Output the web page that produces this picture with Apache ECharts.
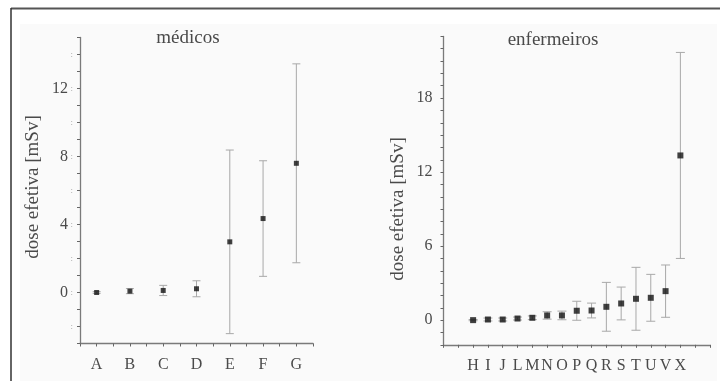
<!DOCTYPE html>
<html>
<head>
<meta charset="utf-8">
<script src="https://cdn.jsdelivr.net/npm/echarts@6/dist/echarts.min.js"></script>
<style>html,body{margin:0;padding:0;background:#fff;}#c{width:720px;height:381px;}</style>
</head>
<body>
<div id="c"></div>
<script>
// ---- data ----
var leftCategories = ['A','B','C','D','E','F','G'];
var leftMeans  = [0.0, 0.08, 0.12, 0.22, 2.98, 4.35, 7.6];
var leftErrors = [0.05, 0.15, 0.3, 0.47, 5.4, 3.4, 5.85];

var rightCategories = ['H','I','J','L','M','N','O','P','Q','R','S','T','U','V','X'];
var rightMeans  = [0.0, 0.05, 0.05, 0.13, 0.19, 0.38, 0.38, 0.76, 0.78, 1.08, 1.35, 1.73, 1.81, 2.35, 13.35];
var rightErrors = [0.05, 0.12, 0.12, 0.12, 0.15, 0.3, 0.35, 0.77, 0.6, 1.98, 1.33, 2.55, 1.9, 2.12, 8.35];

var leftTitle = 'médicos';
var rightTitle = 'enfermeiros';
var yName = 'dose efetiva [mSv]';
var leftYTicks = [0, 4, 8, 12];
var rightYTicks = [0, 6, 12, 18];

// ---- build ----
var FONT = 'Liberation Serif';
var TXT = '#4a4a4a';
var AX = '#7a7a7a';

function pts(means) { return means.map(function (m, i) { return [i + 1, m]; }); }
function bars(means, errs) { return means.map(function (m, i) { return [i + 1, m - errs[i], m + errs[i]]; }); }

function errRender(cap) {
  return function (params, api) {
    var x = api.value(0);
    var top = api.coord([x, api.value(2)]);
    var bot = api.coord([x, api.value(1)]);
    var st = { stroke: '#a8a8a8', lineWidth: 1 };
    return {
      type: 'group',
      children: [
        { type: 'line', shape: { x1: top[0], y1: top[1], x2: bot[0], y2: bot[1] }, style: st },
        { type: 'line', shape: { x1: top[0] - cap, y1: top[1], x2: top[0] + cap, y2: top[1] }, style: st },
        { type: 'line', shape: { x1: bot[0] - cap, y1: bot[1], x2: bot[0] + cap, y2: bot[1] }, style: st }
      ]
    };
  };
}

function xAxisDef(grid, min, max, interval, cats) {
  return {
    type: 'value', gridIndex: grid, min: min, max: max, interval: interval,
    axisLine: { show: true, onZero: false, lineStyle: { color: AX, width: 1.3 } },
    axisTick: { show: true, length: 3, lineStyle: { color: '#666' } },
    splitLine: { show: false },
    axisLabel: {
      margin: 13, fontFamily: FONT, fontSize: 16, color: TXT, showMinLabel: true, showMaxLabel: true,
      formatter: function (v) {
        var r = Math.round(v);
        if (Math.abs(v - r) < 1e-6 && r >= 1 && r <= cats.length) return cats[r - 1];
        return '';
      }
    }
  };
}

function yAxisDef(grid, min, max, labels, margin) {
  return {
    type: 'value', gridIndex: grid, min: min, max: max, interval: 1, position: 'left',
    axisLine: { show: true, onZero: false, lineStyle: { color: AX, width: 1.3 } },
    axisTick: { show: true, length: 3, lineStyle: { color: '#666' } },
    splitLine: { show: false },
    axisLabel: {
      margin: margin, fontFamily: FONT, fontSize: 16, color: TXT, showMinLabel: true, showMaxLabel: true,
      formatter: function (v) { return labels.indexOf(v) >= 0 ? String(v) : ''; }
    }
  };
}

var chart = echarts.init(document.getElementById('c'), null, { renderer: 'canvas' });
chart.setOption({
  backgroundColor: '#ffffff',
  animation: false,
  grid: [
    { left: 80, top: 37.5, width: 233, height: 306 },
    { left: 443.5, top: 36.4, width: 266.5, height: 308.4 }
  ],
  xAxis: [
    xAxisDef(0, 0.5, 7.5, 0.5, leftCategories),
    xAxisDef(1, -1, 17, 1, rightCategories)
  ],
  yAxis: [
    yAxisDef(0, -3, 15, leftYTicks, 12),
    yAxisDef(1, -2, 23, rightYTicks, 11),
    {
      type: 'value', gridIndex: 0, min: -3, max: 15, interval: 1, position: 'left',
      axisLine: { show: false }, axisTick: { show: false }, splitLine: { show: false },
      axisLabel: {
        margin: 7, fontFamily: FONT, fontSize: 9, color: '#999',
        formatter: function (v) { return (Math.round(v) % 2 === 0) ? ':' : ''; }
      }
    }
  ],
  series: [
    { type: 'custom', xAxisIndex: 0, yAxisIndex: 0, renderItem: errRender(4), data: bars(leftMeans, leftErrors), z: 2 },
    { type: 'scatter', xAxisIndex: 0, yAxisIndex: 0, symbol: 'rect', symbolSize: 5, itemStyle: { color: '#111' }, data: pts(leftMeans), z: 3 },
    { type: 'custom', xAxisIndex: 1, yAxisIndex: 1, renderItem: errRender(4.5), data: bars(rightMeans, rightErrors), z: 2 },
    { type: 'scatter', xAxisIndex: 1, yAxisIndex: 1, symbol: 'rect', symbolSize: 6, itemStyle: { color: '#111' }, data: pts(rightMeans), z: 3 }
  ],
  graphic: [
    { type: 'rect', z: -100, silent: true, shape: { x: 20, y: 24, width: 697, height: 357 }, style: { fill: '#fafafa' } },
    { type: 'line', z: 100, shape: { x1: 11, y1: 8.5, x2: 720, y2: 8.5 }, style: { stroke: '#555', lineWidth: 2 } },
    { type: 'line', z: 100, shape: { x1: 11, y1: 8, x2: 11, y2: 381 }, style: { stroke: '#333', lineWidth: 1.5 } },
    { type: 'text', x: 188, y: 38, style: { text: leftTitle, font: '19px "Liberation Serif"', fill: TXT, textAlign: 'center', textVerticalAlign: 'middle' } },
    { type: 'text', x: 553, y: 40.5, style: { text: rightTitle, font: '19px "Liberation Serif"', fill: TXT, textAlign: 'center', textVerticalAlign: 'middle' } },
    { type: 'text', x: 33, y: 187, rotation: Math.PI / 2, style: { text: yName, font: '19px "Liberation Serif"', fill: TXT, textAlign: 'center', textVerticalAlign: 'middle' } },
    { type: 'text', x: 398, y: 209, rotation: Math.PI / 2, style: { text: yName, font: '19px "Liberation Serif"', fill: TXT, textAlign: 'center', textVerticalAlign: 'middle' } }
  ]
});
</script>
</body>
</html>
